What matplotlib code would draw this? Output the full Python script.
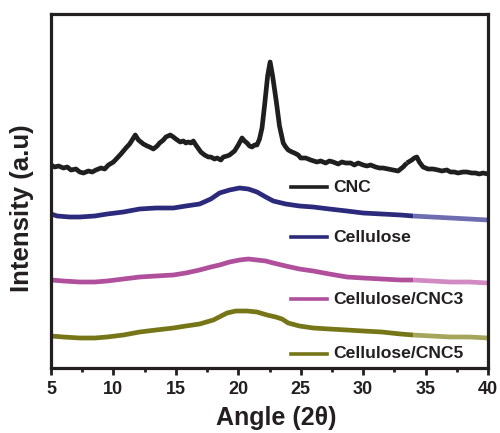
import matplotlib
matplotlib.use("Agg")
import matplotlib.pyplot as plt
from matplotlib.lines import Line2D
from matplotlib.ticker import MultipleLocator

plt.rcParams['font.family'] = ['Liberation Sans', 'DejaVu Sans']

# ---- data (intensity in arbitrary units) ----
cnc_angle = [5.0, 5.3, 5.6, 6.0, 6.3, 6.6, 7.0, 7.3, 7.6, 8.0, 8.3, 8.6, 9.0, 9.3, 9.6, 10.0,
             10.3, 10.6, 11.0, 11.3, 11.55, 11.75, 12.0, 12.2, 12.4, 12.7, 12.9, 13.2, 13.5,
             13.7, 14.0, 14.2, 14.55, 14.8, 15.0, 15.35, 15.6, 15.8, 16.0, 16.2, 16.4, 16.6,
             17.0, 17.3, 17.6, 17.8, 18.1, 18.3, 18.6, 18.8, 19.1, 19.3, 19.5, 19.7, 20.0,
             20.3, 20.5, 20.7, 20.9, 21.1, 21.3, 21.5, 21.7, 21.9, 22.1,
             22.35, 22.55, 22.75, 23.05, 23.3, 23.6, 23.8, 24.0, 24.3, 24.5, 24.8, 25.0, 25.4,
             25.8, 26.3, 26.6, 27.0, 27.3, 27.6, 28.0, 28.3, 28.6, 29.0, 29.3, 29.6, 30.0,
             30.3, 30.6, 31.0, 31.3, 31.6, 32.0, 32.4, 32.8, 33.2, 33.5, 33.9, 34.1,
             34.3, 34.5, 34.8, 35.2, 35.6, 36.0, 36.3, 36.7, 37.0, 37.3, 37.6, 38.0, 38.3,
             38.7, 39.0, 39.3, 39.6, 40.0]
cnc_int = [203, 201, 202, 200, 201, 198, 199, 196, 195, 197, 196, 198, 200, 199, 203, 206,
           210, 214, 220, 224, 229, 233, 228, 226, 224, 222, 221, 219, 222,
           225, 228, 231, 233, 231, 229, 226, 227, 225, 226, 225, 227, 223,
           216, 213, 211, 211, 209, 210, 208, 211, 212, 213, 215, 217, 223,
           230, 227, 225, 222, 221, 223, 223, 229, 240, 262,
           292, 306, 292, 266, 242, 225, 221, 218, 216, 215, 213, 210, 210,
           208, 206, 207, 205, 207, 206, 204, 206, 205, 205, 203, 205, 203,
           202, 203, 201, 200, 200, 199, 198, 197, 201, 205, 208, 210,
           211, 206, 201, 199, 199, 198, 197, 198, 196, 196, 195, 196, 196,
           195, 195, 194, 195, 194]

cel_angle = [5.0, 5.5, 6.5, 7.3, 8.5, 9.5, 10.8, 12.1, 13.4, 14.8, 15.8, 16.9, 17.8, 18.5,
             19.3, 20.1, 20.8, 21.5, 22.2, 22.8, 23.8, 24.9, 26.0, 27.3, 28.7, 30.0, 31.5,
             33.0, 34.0, 35.5, 37.0, 38.5, 40.0]
cel_int = [154, 152, 151, 151, 152, 154, 156, 159, 160, 160, 162, 164, 169, 175,
           178, 180, 179, 176, 171, 167, 164, 162, 161, 159, 157, 155, 154,
           153, 152, 151, 150, 149, 148]

cnc3_angle = [5.0, 6.0, 7.3, 8.5, 9.5, 10.8, 12.1, 13.4, 14.8, 15.8, 16.9, 17.8, 18.5,
              19.3, 20.1, 20.8, 21.5, 22.2, 22.8, 23.8, 24.9, 26.0, 27.3, 28.7, 30.0, 31.5,
              33.0, 34.0, 35.5, 37.0, 38.5, 40.0]
cnc3_int = [88, 87, 86, 86, 87, 89, 91, 92, 93, 95, 98, 101, 103,
            106, 108, 109, 108, 107, 105, 102, 99, 97, 94, 91, 90, 89,
            88, 88, 87, 86, 86, 85]

cnc5_angle = [5.0, 6.0, 7.3, 8.5, 9.5, 10.8, 12.1, 13.4, 14.8, 15.8, 16.9, 18.0, 19.1,
              19.8, 20.7, 21.5, 22.3, 23.0, 23.5, 24.0, 24.9, 26.0, 27.3, 28.7, 30.0, 31.5,
              33.0, 34.0, 35.5, 37.0, 38.5, 40.0]
cnc5_int = [32, 31, 30, 30, 31, 33, 36, 38, 40, 42, 44, 48, 55,
            57, 57, 56, 53, 51, 49, 45, 42, 40, 39, 38, 37, 36,
            34, 33, 32, 31, 31, 30]

labels = ["CNC", "Cellulose", "Cellulose/CNC3", "Cellulose/CNC5"]
colors = ["#1f1f1f", "#2b2a7c", "#b04f9c", "#767619"]
tail_colors = ["#1f1f1f", "#6e6db0", "#d18ac2", "#a5a55c"]
x_ticks = [5, 10, 15, 20, 25, 30, 35, 40]

W, H = 500, 433
fig = plt.figure(figsize=(W / 100, H / 100), dpi=100)
ax = fig.add_axes([51 / W, 1 - 368 / H, (488 - 51) / W, (368 - 14) / H])

series = [(cnc_angle, cnc_int), (cel_angle, cel_int), (cnc3_angle, cnc3_int), (cnc5_angle, cnc5_int)]
for (xa, ya), c, tc in zip(series, colors, tail_colors):
    k = next(i for i, v in enumerate(xa) if v >= 33.5)
    ax.plot(xa[:k + 1], ya[:k + 1], color=c, lw=3.4, solid_joinstyle='round', solid_capstyle='butt')
    ax.plot(xa[k:], ya[k:], color=tc, lw=3.4, solid_joinstyle='round', solid_capstyle='butt')

ax.set_xlim(5, 40)
ax.set_ylim(0, 354)
ax.set_xticks(x_ticks)
ax.xaxis.set_minor_locator(MultipleLocator(2.5))
ax.set_yticks([])
for s in ax.spines.values():
    s.set_linewidth(2.3)
    s.set_color("#231f20")
ax.tick_params(axis='x', which='major', direction='out', length=5, width=2, color="#231f20",
               labelsize=13, pad=4, labelcolor="#231f20")
ax.tick_params(axis='x', which='minor', direction='out', length=3, width=2, color="#231f20")
for t in ax.get_xticklabels():
    t.set_fontweight('bold')

ax.set_xlabel("Angle (2θ)", fontsize=18, fontweight='bold', color="#231f20")
ax.set_ylabel("Intensity (a.u)", fontsize=18.5, fontweight='bold', color="#231f20")
ax.xaxis.set_label_coords((276 - 51) / 437, (368 - 406) / 354)
ax.yaxis.set_label_coords((34 - 51) / 437, (368 - 208) / 354)

# legend entries placed next to each curve (pixel positions)
leg_y = [187, 237, 299, 354]
for lab, c, yy in zip(labels, colors, leg_y):
    fy = 1 - yy / H
    fig.add_artist(Line2D([291 / W, 327 / W], [fy, fy], color=c, lw=2.6, transform=fig.transFigure))
    fig.text(333 / W, fy, lab, fontsize=12.6, fontweight='bold', color="#231f20",
             va='center', ha='left')

fig.savefig("out.png", dpi=100)
